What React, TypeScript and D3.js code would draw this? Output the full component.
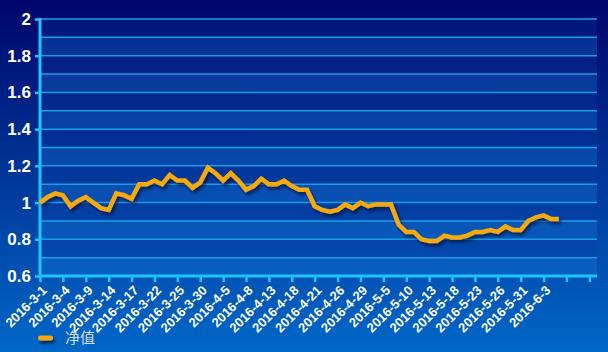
import { useRef, useEffect } from 'react';
import * as d3 from 'd3';

const dates = [
    '2016-3-1', '2016-3-2', '2016-3-3', '2016-3-4', '2016-3-7', '2016-3-8', '2016-3-9', '2016-3-10', '2016-3-11',
    '2016-3-14', '2016-3-15', '2016-3-16', '2016-3-17', '2016-3-18', '2016-3-21', '2016-3-22', '2016-3-23', '2016-3-24',
    '2016-3-25', '2016-3-28', '2016-3-29', '2016-3-30', '2016-3-31', '2016-4-1', '2016-4-5', '2016-4-6', '2016-4-7',
    '2016-4-8', '2016-4-11', '2016-4-12', '2016-4-13', '2016-4-14', '2016-4-15', '2016-4-18', '2016-4-19', '2016-4-20',
    '2016-4-21', '2016-4-22', '2016-4-25', '2016-4-26', '2016-4-27', '2016-4-28', '2016-4-29', '2016-5-3', '2016-5-4',
    '2016-5-5', '2016-5-6', '2016-5-9', '2016-5-10', '2016-5-11', '2016-5-12', '2016-5-13', '2016-5-16', '2016-5-17',
    '2016-5-18', '2016-5-19', '2016-5-20', '2016-5-23', '2016-5-24', '2016-5-25', '2016-5-26', '2016-5-27', '2016-5-30',
    '2016-5-31', '2016-6-1', '2016-6-2', '2016-6-3', '2016-6-6', '2016-6-7',
];

// trailing empty slots on the category axis
const categories = [...dates, '', '', '', '', ''];

const netValue = [
    1.00, 1.03, 1.05, 1.04, 0.98, 1.01, 1.03, 1.00, 0.97, 0.96,
    1.05, 1.04, 1.02, 1.10, 1.10, 1.12, 1.10, 1.15, 1.12, 1.12,
    1.08, 1.11, 1.19, 1.16, 1.12, 1.16, 1.12, 1.07, 1.09, 1.13,
    1.10, 1.10, 1.12, 1.09, 1.07, 1.07, 0.98, 0.96, 0.95, 0.96,
    0.99, 0.97, 1.00, 0.98, 0.99, 0.99, 0.99, 0.88, 0.84, 0.84,
    0.80, 0.79, 0.79, 0.82, 0.81, 0.81, 0.82, 0.84, 0.84, 0.85,
    0.84, 0.87, 0.85, 0.85, 0.90, 0.92, 0.93, 0.91, 0.91,
];

const yTicks = [0.6, 0.8, 1, 1.2, 1.4, 1.6, 1.8, 2];
const seriesName = '净值';

export default function App() {
    const svgRef = useRef<SVGSVGElement>(null);

    useEffect(() => {
        if (!svgRef.current) return;

        const width = 608;
        const height = 352;
        const margin = { top: 19, right: 11, bottom: 76, left: 40 };
        const innerWidth = width - margin.left - margin.right;
        const innerHeight = height - margin.top - margin.bottom;

        const svg = d3.select(svgRef.current)
            .attr('width', width)
            .attr('height', height)
            .attr('viewBox', `0 0 ${width} ${height}`);

        svg.selectAll('*').remove();

        const defs = svg.append('defs');

        const bg = defs.append('linearGradient')
            .attr('id', 'bgGradient')
            .attr('x1', '0%').attr('y1', '0%')
            .attr('x2', '0%').attr('y2', '100%');
        bg.append('stop').attr('offset', '0%').attr('stop-color', '#00056a');
        bg.append('stop').attr('offset', '100%').attr('stop-color', '#0068c8');

        const shadow = defs.append('filter')
            .attr('id', 'lineShadow')
            .attr('filterUnits', 'userSpaceOnUse')
            .attr('x', -50).attr('y', -50)
            .attr('width', width + 100).attr('height', height + 100);
        shadow.append('feDropShadow')
            .attr('dx', 2)
            .attr('dy', 3)
            .attr('stdDeviation', 1.5)
            .attr('flood-color', '#000a30')
            .attr('flood-opacity', 0.7);

        svg.append('rect')
            .attr('width', width)
            .attr('height', height)
            .attr('fill', 'url(#bgGradient)');

        const xScale = d3.scalePoint<number>()
            .domain(d3.range(categories.length))
            .range([0, innerWidth]);

        const yScale = d3.scaleLinear()
            .domain([0.6, 2])
            .range([innerHeight, 0]);

        const g = svg.append('g')
            .attr('transform', `translate(${margin.left},${margin.top})`);

        // Bands, alternating every 0.1
        const bandStarts = d3.range(0.6, 2.0, 0.1).map(d => +d.toFixed(1));
        g.selectAll('.band')
            .data(bandStarts)
            .enter()
            .append('rect')
            .attr('x', 0)
            .attr('width', innerWidth)
            .attr('y', d => yScale(d + 0.1))
            .attr('height', d => yScale(d) - yScale(d + 0.1))
            .attr('fill', (d, i) => (i % 2 === 0 ? '#1a7ee0' : '#0a3aa8'))
            .attr('fill-opacity', (d, i) => (i % 2 === 0 ? 0.3 : 0.25));

        // Grid lines every 0.1
        g.append('g')
            .selectAll('line')
            .data(d3.range(0.7, 2.05, 0.1))
            .enter()
            .append('line')
            .attr('x1', 0)
            .attr('x2', innerWidth)
            .attr('y1', d => yScale(d))
            .attr('y2', d => yScale(d))
            .attr('stroke', '#1b9ee6')
            .attr('stroke-width', 1.5);

        // Y Axis
        const yAxis = g.append('g')
            .call(
                d3.axisLeft(yScale)
                    .tickValues(yTicks)
                    .tickSize(5)
                    .tickPadding(4)
                    .tickFormat(d => String(d))
            );
        yAxis.select('.domain').remove();
        yAxis.selectAll('.tick line')
            .attr('stroke', '#1ec4ff')
            .attr('stroke-width', 2.5);
        yAxis.selectAll('text')
            .attr('fill', '#ffffff')
            .attr('font-family', 'Liberation Sans, Arial, sans-serif')
            .attr('font-weight', 'bold')
            .attr('font-size', '17px');

        g.append('line')
            .attr('x1', 0).attr('x2', 0)
            .attr('y1', -1).attr('y2', innerHeight + 1)
            .attr('stroke', '#1ec4ff')
            .attr('stroke-width', 3);

        // X Axis
        const tickIdx = d3.range(0, categories.length, 3);
        const xAxis = g.append('g')
            .attr('transform', `translate(0,${innerHeight})`)
            .call(
                d3.axisBottom(xScale)
                    .tickValues(tickIdx)
                    .tickSize(6)
                    .tickFormat(i => categories[i as number])
            );
        xAxis.select('.domain').remove();
        xAxis.selectAll('.tick line')
            .attr('stroke', '#1ec4ff')
            .attr('stroke-width', 2.5);
        xAxis.selectAll('text')
            .attr('fill', '#ffffff')
            .attr('font-family', 'Liberation Sans, Arial, sans-serif')
            .attr('font-weight', 'bold')
            .attr('font-size', '13px')
            .attr('text-anchor', 'end')
            .attr('dy', '0.35em')
            .attr('transform', 'translate(4,12) rotate(-45)')
            .attr('x', 0)
            .attr('y', 0);

        g.append('line')
            .attr('x1', -1).attr('x2', innerWidth)
            .attr('y1', innerHeight).attr('y2', innerHeight)
            .attr('stroke', '#1ec4ff')
            .attr('stroke-width', 3);

        // Line
        const line = d3.line<number>()
            .x((d, i) => xScale(i) as number)
            .y(d => yScale(d));

        g.append('path')
            .datum(netValue)
            .attr('fill', 'none')
            .attr('stroke', '#f6a90b')
            .attr('stroke-width', 4.5)
            .attr('stroke-linejoin', 'miter')
            .attr('filter', 'url(#lineShadow)')
            .attr('d', line);

        // Legend
        const legend = svg.append('g')
            .attr('transform', `translate(38,${height - 14})`);
        legend.append('rect')
            .attr('x', 0)
            .attr('y', -2.5)
            .attr('width', 15)
            .attr('height', 5)
            .attr('rx', 2.5)
            .attr('fill', '#f6a90b')
            .attr('filter', 'url(#lineShadow)');
        legend.append('text')
            .attr('x', 27)
            .attr('y', 5)
            .attr('fill', '#d8dce8')
            .attr('font-family', 'Noto Sans CJK SC, sans-serif')
            .attr('font-size', '15px')
            .text(seriesName);
    }, []);

    return (
        <svg ref={svgRef} style={{ position: 'absolute', left: 0, top: 0, display: 'block' }} />
    );
}
